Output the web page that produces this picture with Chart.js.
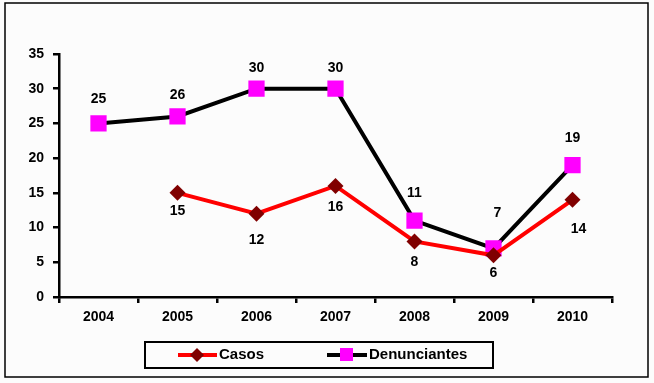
<!DOCTYPE html>
<html>
<head>
<meta charset="utf-8">
<script src="https://cdn.jsdelivr.net/npm/chart.js@4"></script>
<style>
  html, body { margin: 0; padding: 0; background: #fcfcfc; }
  #wrap { width: 654px; height: 383px; position: relative; }
</style>
</head>
<body>
<div id="wrap"><canvas id="grafico" width="654" height="383"></canvas></div>
<script>
// dados
const anos = ['2004', '2005', '2006', '2007', '2008', '2009', '2010'];
const casos = [null, 15, 12, 16, 8, 6, 14];
const denunciantes = [25, 26, 30, 30, 11, 7, 19];
const ticksY = [0, 5, 10, 15, 20, 25, 30, 35];

const familia = '"Liberation Sans", Arial, sans-serif';
const fonte = 'bold 14px ' + familia;

// deslocamento vertical dos rotulos (como o Excel posicionou)
const deslCasos = [0, 18, 26, 21, 21, 18, 29];
const deslDenun = [-24, -21, -21, -21, -27, -35, -27];

// moldura, rotulos e legenda desenhados a mao
const extras = {
    id: 'extras',
    beforeDraw(chart) {
        const c = chart.ctx;
        c.save();
        c.fillStyle = '#fcfcfc';
        c.fillRect(0, 0, chart.width, chart.height);
        c.strokeStyle = '#000';
        c.lineWidth = 1.5;
        c.strokeRect(5, 3, 643, 374);
        c.restore();
    },
    afterDatasetsDraw(chart) {
        const c = chart.ctx;
        c.save();
        c.font = fonte;
        c.fillStyle = '#000';
        c.textAlign = 'center';
        c.textBaseline = 'middle';
        chart.data.datasets.forEach((ds, i) => {
            const meta = chart.getDatasetMeta(i);
            const desl = i === 0 ? deslCasos : deslDenun;
            meta.data.forEach((pt, j) => {
                if (ds.data[j] == null) return;
                const dx = (i === 0 && j === 6) ? 6 : (i === 1 && j === 5 ? 4 : 0);
                c.fillText(String(ds.data[j]), pt.x + dx, pt.y + desl[j]);
            });
        });

        // legenda
        c.lineWidth = 2;
        c.strokeStyle = '#000';
        c.strokeRect(145, 342, 348, 26);
        const yL = 355;
        c.lineWidth = 4;
        c.strokeStyle = '#ff0000';
        c.beginPath(); c.moveTo(178, yL); c.lineTo(217, yL); c.stroke();
        c.fillStyle = '#800000';
        c.beginPath();
        c.moveTo(197, yL - 7); c.lineTo(204, yL); c.lineTo(197, yL + 7); c.lineTo(190, yL);
        c.closePath(); c.fill();
        c.strokeStyle = '#000';
        c.beginPath(); c.moveTo(327, yL); c.lineTo(367, yL); c.stroke();
        c.fillStyle = '#ff00ff';
        c.fillRect(340, yL - 7, 13, 13);
        c.fillStyle = '#000';
        c.textAlign = 'left';
        c.font = 'bold 15px ' + familia;
        c.fillText(chart.data.datasets[0].label, 219, yL);
        c.fillText(chart.data.datasets[1].label, 369, yL);
        c.restore();
    }
};

new Chart(document.getElementById('grafico'), {
    type: 'line',
    data: {
        labels: anos,
        datasets: [{
            label: 'Casos',
            data: casos,
            borderColor: '#ff0000',
            borderWidth: 4,
            pointStyle: 'rectRot',
            pointRadius: 8,
            pointBackgroundColor: '#800000',
            pointBorderColor: '#800000',
            pointBorderWidth: 0,
            tension: 0
        }, {
            label: 'Denunciantes',
            data: denunciantes,
            borderColor: '#000000',
            borderWidth: 4,
            pointStyle: 'rect',
            pointRadius: 11.5,
            pointBackgroundColor: '#ff00ff',
            pointBorderColor: '#ff00ff',
            pointBorderWidth: 0,
            tension: 0
        }]
    },
    options: {
        responsive: false,
        animation: false,
        layout: { padding: { left: 0, right: 42, top: 54, bottom: 0 } },
        plugins: {
            legend: { display: false },
            tooltip: { enabled: false }
        },
        scales: {
            x: {
                offset: true,
                grid: { offset: true, drawOnChartArea: false, tickLength: 6, color: '#000', lineWidth: 2.5 },
                border: { color: '#000', width: 2.5 },
                ticks: { color: '#000', font: { family: familia, size: 14, weight: 'bold' }, padding: 6, maxRotation: 0 },
                afterFit(s) { s.height = 86; }
            },
            y: {
                min: 0,
                max: 35,
                afterBuildTicks(s) { s.ticks = ticksY.map(v => ({ value: v })); },
                grid: { drawOnChartArea: false, tickLength: 6, color: '#000', lineWidth: 2.5 },
                border: { color: '#000', width: 2.5 },
                ticks: { color: '#000', font: { family: familia, size: 14, weight: 'bold' }, padding: 9 },
                afterFit(s) { s.width = 59; }
            }
        }
    },
    plugins: [extras]
});
</script>
</body>
</html>
